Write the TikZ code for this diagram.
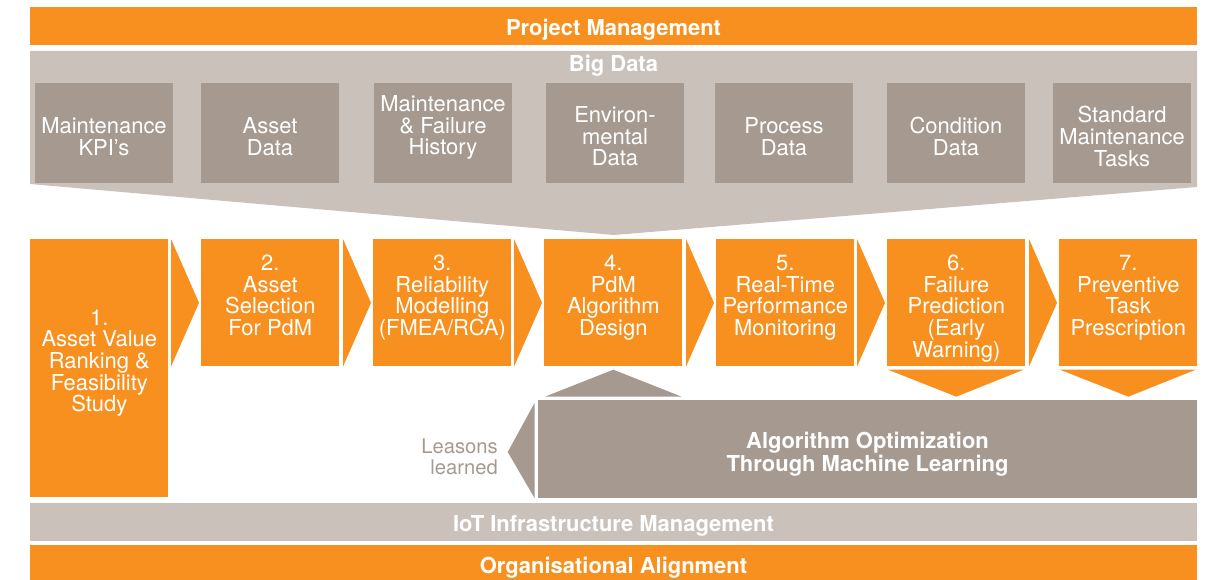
\documentclass[tikz,border=0pt]{standalone}
\usepackage{fontspec}
\setmainfont{TeX Gyre Heros}
\usetikzlibrary{calc}

\definecolor{pdmorange}{HTML}{F7901E}
\definecolor{lightgrey}{HTML}{C9C1BA}
\definecolor{darkgrey}{HTML}{A69A90}

\newcommand{\steptext}[3][9pt]{\parbox[c][#2][t]{2.76cm}{\centering\vspace*{#1}#3}}
\newcommand{\datatext}[2][4pt]{\parbox[c][2cm][c]{2.76cm}{\centering\vspace*{#1}#2}}

\tikzset{
  bar/.style={fill=pdmorange, minimum width=23.34cm, minimum height=0.76cm, inner sep=0pt, text=white, text height=11.3pt, text depth=0pt, font=\fontsize{12.5}{12.3}\selectfont\bfseries},
  databox/.style={fill=darkgrey, inner sep=0pt, text=white},
  stepbox/.style={fill=pdmorange, inner sep=0pt, anchor=north west, text=white},
}

\begin{document}
\begin{tikzpicture}[x=0.02cm, y=-0.02cm, every node/.append style={font=\fontsize{12.5}{12.3}\selectfont}]
\useasboundingbox (0,0) rectangle (1213,580);

% top bars and big data funnel
\node[bar] (pm) at (613.5,26) {Project Management};
\fill[lightgrey] (30,51) -- (1197,51) -- (1197,187) -- (614,235) -- (30,184) -- cycle;
\node[anchor=base, text=white, font=\fontsize{12.5}{12.3}\selectfont\bfseries] (bigdata) at (613.5,72) {Big Data};

\node[databox] (d1) at (104,133) {\datatext{Maintenance\\KPI’s}};
\node[databox] (d2) at (270,133) {\datatext{Asset\\Data}};
\node[databox] (d3) at (443,133) {\datatext[-6pt]{Maintenance\\\& Failure\\History}};
\node[databox] (d4) at (615,133) {\datatext{Environ-\\mental\\Data}};
\node[databox] (d5) at (784,133) {\datatext{Process\\Data}};
\node[databox] (d6) at (956,133) {\datatext{Condition\\Data}};
\node[databox] (d7) at (1122,133) {\datatext{Standard\\Maintenance\\Tasks}};

% process steps
\node[stepbox] (s1) at (30,239) {\steptext[40pt]{5.16cm}{1.\\Asset Value\\Ranking \&\\Feasibility\\Study}};
\node[stepbox] (s2) at (201,239) {\steptext{2.54cm}{2.\\Asset\\Selection\\For PdM}};
\node[stepbox] (s3) at (373,239) {\steptext{2.54cm}{3.\\Reliability\\Modelling\\(FMEA/RCA)}};
\node[stepbox] (s4) at (544,239) {\steptext{2.54cm}{4.\\PdM\\Algorithm\\Design}};
\node[stepbox] (s5) at (716,239) {\steptext{2.54cm}{5.\\Real-Time\\Performance\\Monitoring}};
\node[stepbox] (s6) at (887,239) {\steptext{2.54cm}{6.\\Failure\\Prediction\\(Early\\Warning)}};
\node[stepbox] (s7) at (1059,239) {\steptext{2.54cm}{7.\\Preventive\\Task\\Prescription}};

\foreach \a/\b in {s1/s2, s2/s3, s3/s4, s4/s5, s5/s6, s6/s7}
  \fill[pdmorange] ($(\b.north west)+(-30,0)$) -- ($(\b.west)+(-2,0)$) -- ($(\b.south west)+(-30,0)$) -- cycle;

% machine learning loop
\node[fill=darkgrey, minimum width=13.18cm, minimum height=1.96cm, inner sep=0pt, text=white, align=center, text height=25.5pt, text depth=0pt, font=\fontsize{12.5}{12.8}\selectfont\bfseries] (opt) at (867.5,449) {Algorithm Optimization\\Through Machine Learning};

\foreach \s in {s6, s7}
  \fill[pdmorange] ($(\s.south west)+(1,3)$) -- ($(\s.south)+(0,30)$) -- ($(\s.south east)+(-2,3)$) -- cycle;
\fill[darkgrey] ($(s4.south west)+(1,30)$) -- ($(s4.south)+(0,3)$) -- ($(s4.south east)+(-1,30)$) -- cycle;
\fill[darkgrey] ($(opt.north west)+(-3,3)$) -- ($(opt.west)+(-30,3)$) -- ($(opt.south west)+(-3,0)$) -- cycle;
\node[anchor=east, align=right, text=darkgrey, font=\fontsize{11.5}{12}\selectfont] (lessons) at (504,457) {Leasons\\learned};

% bottom bars
\node[bar, fill=lightgrey] (iot) at (613.5,522) {IoT Infrastructure Management};
\node[bar] (org) at (613.5,564) {Organisational Alignment};

\end{tikzpicture}
\end{document}
